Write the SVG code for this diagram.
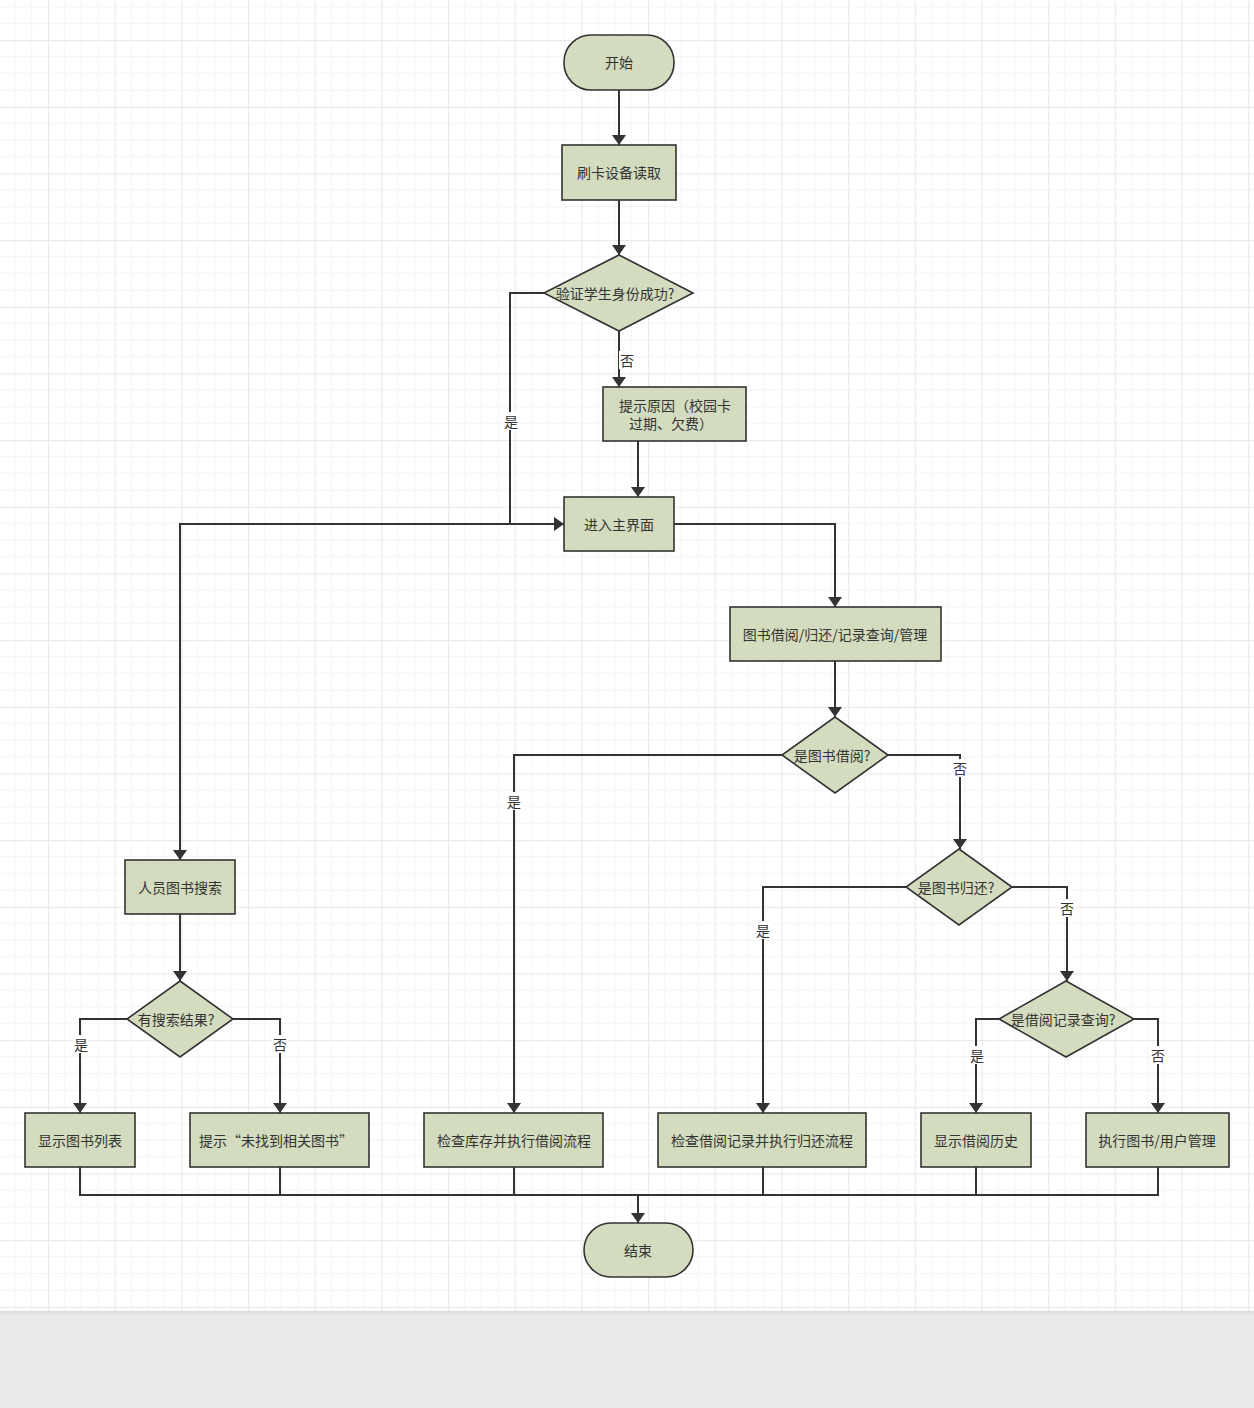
<svg xmlns="http://www.w3.org/2000/svg" width="1254" height="1408" viewBox="0 0 1254 1408">
<defs>
<pattern id="grid" patternUnits="userSpaceOnUse" x="48" y="40" width="66.67" height="66.67">
<path d="M16.67 0V66.67M33.33 0V66.67M50 0V66.67M0 16.67H66.67M0 33.33H66.67M0 50H66.67" stroke="#f3f3f3" stroke-width="1" fill="none"/>
<path d="M0.5 0V66.67M0 0.5H66.67" stroke="#eaeaea" stroke-width="1.5" fill="none"/>
</pattern>
<marker id="arr" viewBox="0 0 10 14" refX="10" refY="7" markerWidth="10" markerHeight="14" markerUnits="userSpaceOnUse" orient="auto">
<path d="M0 0L10 7L0 14Z" fill="#333"/>
</marker>
<linearGradient id="sh" x1="0" y1="0" x2="0" y2="1">
<stop offset="0" stop-color="#d9dadc"/>
<stop offset="1" stop-color="#e9eaec"/>
</linearGradient>
</defs>
<style>
.n{fill:#d4dcbf;stroke:#333;stroke-width:1.6}
.t{font-family:"Noto Sans CJK SC","Liberation Sans",sans-serif;font-size:14px;fill:#333;text-anchor:middle;dominant-baseline:central}
.e{fill:none;stroke:#333;stroke-width:2}
.lb{fill:#fff}
</style>
<rect x="0" y="0" width="1254" height="1311" fill="#fff"/>
<rect x="0" y="0" width="1254" height="1311" fill="url(#grid)"/>
<rect x="0" y="1311" width="1254" height="97" fill="#e9eaec"/>
<rect x="0" y="1311" width="1254" height="5" fill="url(#sh)"/>

<g id="connectors">
<path class="e" d="M619 90V145" marker-end="url(#arr)"/>
<path class="e" d="M619 200V255" marker-end="url(#arr)"/>
<path class="e" d="M544 293H510V524H564" marker-end="url(#arr)"/>
<path class="e" d="M619 331V387" marker-end="url(#arr)"/>
<path class="e" d="M638 441V497" marker-end="url(#arr)"/>
<path class="e" d="M564 524H180V860" marker-end="url(#arr)"/>
<path class="e" d="M674 524H835V607" marker-end="url(#arr)"/>
<path class="e" d="M835 661V717" marker-end="url(#arr)"/>
<path class="e" d="M782 755H514V1113" marker-end="url(#arr)"/>
<path class="e" d="M888 755H960V849" marker-end="url(#arr)"/>
<path class="e" d="M906 887H763V1113" marker-end="url(#arr)"/>
<path class="e" d="M1012 887H1067V981" marker-end="url(#arr)"/>
<path class="e" d="M999 1019H976V1113" marker-end="url(#arr)"/>
<path class="e" d="M1134 1019H1158V1113" marker-end="url(#arr)"/>
<path class="e" d="M180 914V981" marker-end="url(#arr)"/>
<path class="e" d="M127 1019H80V1113" marker-end="url(#arr)"/>
<path class="e" d="M233 1019H280V1113" marker-end="url(#arr)"/>
<path class="e" d="M80 1167V1195H1158V1167M280 1167V1195M514 1167V1195M763 1167V1195M976 1167V1195"/>
<path class="e" d="M638 1195V1223" marker-end="url(#arr)"/>
<rect class="lb" x="503" y="412" width="16" height="18"/><text class="t" x="511" y="421">是</text>
<rect class="lb" x="619" y="351" width="16" height="18"/><text class="t" x="627" y="360">否</text>
<rect class="lb" x="506" y="792" width="16" height="18"/><text class="t" x="514" y="801">是</text>
<rect class="lb" x="952" y="759" width="16" height="18"/><text class="t" x="960" y="768">否</text>
<rect class="lb" x="755" y="921" width="16" height="18"/><text class="t" x="763" y="930">是</text>
<rect class="lb" x="1059" y="899" width="16" height="18"/><text class="t" x="1067" y="908">否</text>
<rect class="lb" x="969" y="1046" width="16" height="18"/><text class="t" x="977" y="1055">是</text>
<rect class="lb" x="1150" y="1046" width="16" height="18"/><text class="t" x="1158" y="1055">否</text>
<rect class="lb" x="73" y="1035" width="16" height="18"/><text class="t" x="81" y="1044">是</text>
<rect class="lb" x="272" y="1035" width="16" height="18"/><text class="t" x="280" y="1044">否</text>
</g>

<g id="start"><rect class="n" x="564" y="35" width="110" height="55" rx="27"/><text class="t" x="619" y="62">开始</text></g>
<g id="card"><rect class="n" x="562" y="145" width="114" height="55"/><text class="t" x="619" y="172">刷卡设备读取</text></g>
<g id="verify"><path class="n" d="M619 255L693 293L619 331L544 293Z"/><text class="t" x="615" y="293">验证学生身份成功?</text></g>
<g id="reason"><rect class="n" x="603" y="387" width="143" height="54"/><text class="t" x="675" y="405">提示原因（校园卡</text><text class="t" x="671" y="423">过期、欠费）</text></g>
<g id="main"><rect class="n" x="564" y="497" width="110" height="54"/><text class="t" x="619" y="524">进入主界面</text></g>
<g id="ops"><rect class="n" x="730" y="607" width="211" height="54"/><text class="t" x="835" y="634">图书借阅/归还/记录查询/管理</text></g>
<g id="isBorrow"><path class="n" d="M835 717L888 755L835 793L782 755Z"/><text class="t" x="832" y="755">是图书借阅?</text></g>
<g id="isReturn"><path class="n" d="M959 849L1012 887L959 925L906 887Z"/><text class="t" x="956" y="887">是图书归还?</text></g>
<g id="isQuery"><path class="n" d="M1066 981L1134 1019L1066 1057L999 1019Z"/><text class="t" x="1063" y="1019">是借阅记录查询?</text></g>
<g id="search"><rect class="n" x="125" y="860" width="110" height="54"/><text class="t" x="180" y="887">人员图书搜索</text></g>
<g id="hasResult"><path class="n" d="M180 981L233 1019L180 1057L127 1019Z"/><text class="t" x="176" y="1019">有搜索结果?</text></g>
<g id="showList"><rect class="n" x="25" y="1113" width="110" height="54"/><text class="t" x="80" y="1140">显示图书列表</text></g>
<g id="notFound"><rect class="n" x="190" y="1113" width="179" height="54"/><text class="t" x="276" y="1140">提示“未找到相关图书”</text></g>
<g id="borrow"><rect class="n" x="424" y="1113" width="179" height="54"/><text class="t" x="514" y="1140">检查库存并执行借阅流程</text></g>
<g id="return"><rect class="n" x="658" y="1113" width="208" height="54"/><text class="t" x="762" y="1140">检查借阅记录并执行归还流程</text></g>
<g id="history"><rect class="n" x="921" y="1113" width="110" height="54"/><text class="t" x="976" y="1140">显示借阅历史</text></g>
<g id="manage"><rect class="n" x="1086" y="1113" width="143" height="54"/><text class="t" x="1157" y="1140">执行图书/用户管理</text></g>
<g id="end"><rect class="n" x="584" y="1223" width="109" height="54" rx="27"/><text class="t" x="638" y="1250">结束</text></g>
</svg>
